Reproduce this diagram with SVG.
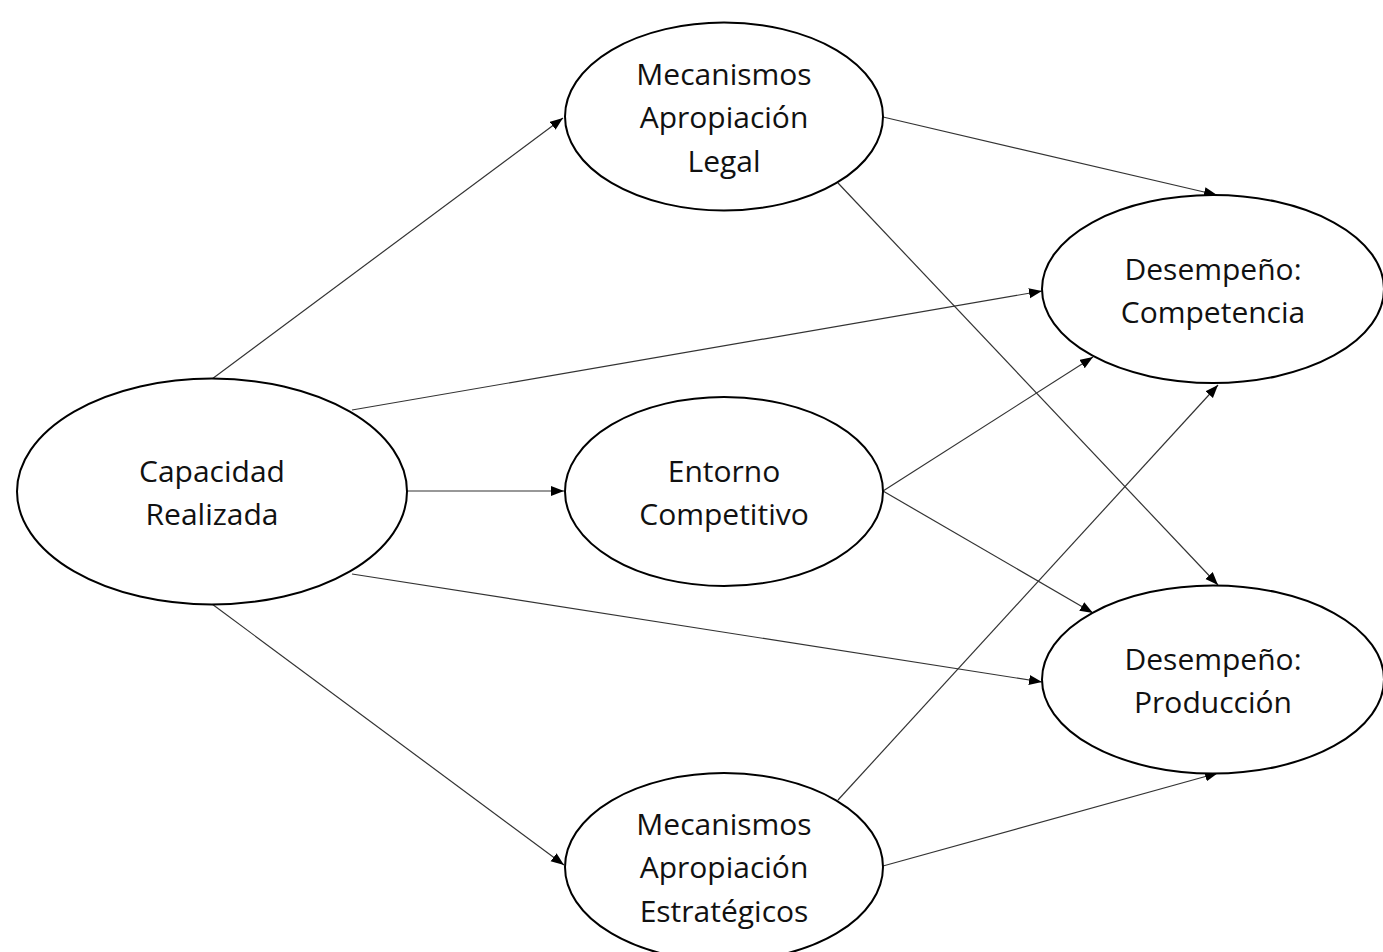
<svg xmlns="http://www.w3.org/2000/svg" width="1383" height="952" viewBox="0 0 1383 952">
<style>
.node ellipse{fill:#fff;stroke:#000;stroke-width:2}
.node text{font-family:"Open Sans","Noto Sans",sans-serif;font-size:30px;fill:#111;text-anchor:middle}
.edge{stroke:#333;stroke-width:1.2;fill:none;marker-end:url(#arr)}
</style>
<defs>
<marker id="arr" markerUnits="userSpaceOnUse" markerWidth="14" markerHeight="11" refX="13" refY="5" orient="auto">
<path d="M0,0 L13,5 L0,10 z" fill="#000"/>
</marker>
</defs>
<rect width="1383" height="952" fill="#fff"/>
<g id="connectors">
<line class="edge" x1="212" y1="379" x2="563" y2="118"/>
<line class="edge" x1="352" y1="410" x2="1042" y2="291"/>
<line class="edge" x1="407" y1="491" x2="564" y2="491"/>
<line class="edge" x1="352" y1="574" x2="1042" y2="682"/>
<line class="edge" x1="212" y1="604" x2="564" y2="865"/>
<line class="edge" x1="883" y1="117" x2="1217" y2="195"/>
<line class="edge" x1="838" y1="183" x2="1218" y2="585"/>
<line class="edge" x1="883" y1="491" x2="1093" y2="357"/>
<line class="edge" x1="883" y1="491" x2="1093" y2="613"/>
<line class="edge" x1="838" y1="800" x2="1218" y2="385"/>
<line class="edge" x1="883" y1="866" x2="1218" y2="773"/>
</g>
<g id="capacidad" class="node">
<ellipse cx="212" cy="491.5" rx="195" ry="113"/>
<text x="212" y="482">Capacidad</text>
<text x="212" y="525">Realizada</text>
</g>
<g id="legal" class="node">
<ellipse cx="724" cy="116.5" rx="159" ry="94"/>
<text x="724" y="85">Mecanismos</text>
<text x="724" y="128">Apropiación</text>
<text x="724" y="172">Legal</text>
</g>
<g id="entorno" class="node">
<ellipse cx="724" cy="491.5" rx="159" ry="94.5"/>
<text x="724" y="482">Entorno</text>
<text x="724" y="525">Competitivo</text>
</g>
<g id="estrategicos" class="node">
<ellipse cx="724" cy="867" rx="159" ry="94"/>
<text x="724" y="835">Mecanismos</text>
<text x="724" y="878">Apropiación</text>
<text x="724" y="922">Estratégicos</text>
</g>
<g id="competencia" class="node">
<ellipse cx="1213" cy="289" rx="171" ry="94"/>
<text x="1213" y="280">Desempeño:</text>
<text x="1213" y="323">Competencia</text>
</g>
<g id="produccion" class="node">
<ellipse cx="1213" cy="679.5" rx="171" ry="94"/>
<text x="1213" y="670">Desempeño:</text>
<text x="1213" y="713">Producción</text>
</g>
</svg>
